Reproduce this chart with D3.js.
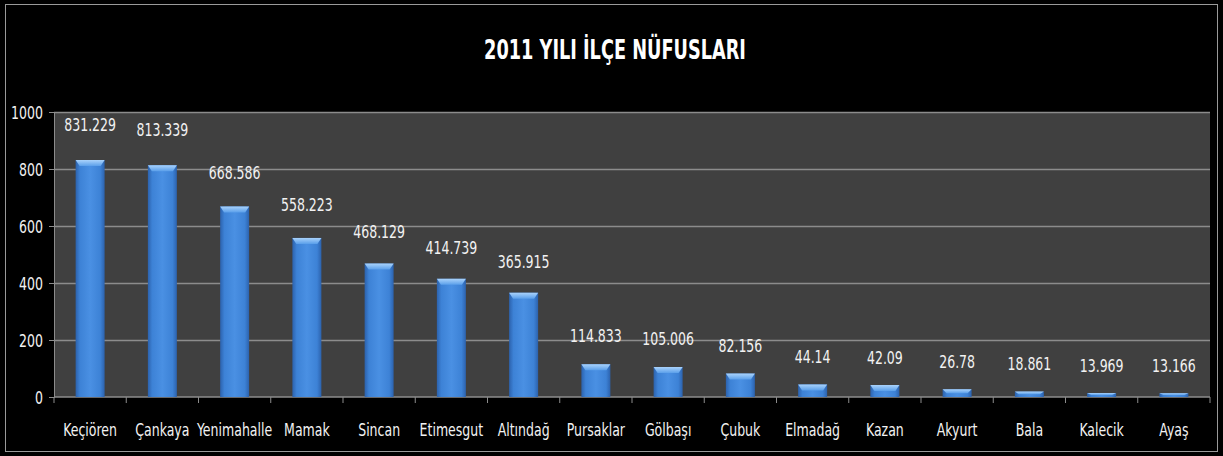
<!DOCTYPE html>
<html>
<head>
<meta charset="utf-8">
<script src="https://cdn.jsdelivr.net/npm/d3@7"></script>
<style>
  body { margin: 0; background: #000; }
  svg { display: block; }
  text { font-family: "Liberation Sans Narrow", "DejaVu Sans", sans-serif; font-stretch: condensed; }
</style>
</head>
<body>
<svg id="chart" width="1223" height="456"></svg>
<script>
var districts = ["Keçiören", "Çankaya", "Yenimahalle", "Mamak", "Sincan", "Etimesgut", "Altındağ",
  "Pursaklar", "Gölbaşı", "Çubuk", "Elmadağ", "Kazan", "Akyurt", "Bala", "Kalecik", "Ayaş"];
var population = [831.229, 813.339, 668.586, 558.223, 468.129, 414.739, 365.915,
  114.833, 105.006, 82.156, 44.14, 42.09, 26.78, 18.861, 13.969, 13.166];
var yTicks = [0, 200, 400, 600, 800, 1000];
var title = "2011 YILI İLÇE NÜFUSLARI";

var svg = d3.select("#chart");
var margin = {left: 54, right: 13, top: 112, bottom: 59};
var W = 1223, H = 456;
var sx = 0.82; // squeeze text horizontally, the original uses a narrow face

function narrow(sel, px, py, s) {
  s = s || sx;
  sel.attr("x", 0).attr("y", 0)
    .attr("transform", function(d, i) { return "translate(" + px(d, i) + "," + py(d, i) + ") scale(" + s + ",1)"; });
}

// outer frame
svg.append("rect").attr("x", 5.5).attr("y", 4.5).attr("width", W - 11).attr("height", H - 9)
  .attr("fill", "#000").attr("stroke", "#9a9a9a").attr("stroke-width", 1);

svg.append("text").attr("text-anchor", "middle")
  .attr("fill", "#fff").style("font-size", "27px").style("font-weight", "bold")
  .text(title)
  .call(narrow, function() { return 615; }, function() { return 59; }, 0.73);

var x = d3.scaleBand().domain(districts).range([margin.left, W - margin.right]).padding(0);
var y = d3.scaleLinear().domain([0, 1000]).range([H - margin.bottom, margin.top]);

var defs = svg.append("defs");
var grad = defs.append("linearGradient").attr("id", "barGrad").attr("x1", 0).attr("x2", 1);
grad.append("stop").attr("offset", "0%").attr("stop-color", "#2c62ad");
grad.append("stop").attr("offset", "15%").attr("stop-color", "#3d82d6");
grad.append("stop").attr("offset", "50%").attr("stop-color", "#4a90e3");
grad.append("stop").attr("offset", "85%").attr("stop-color", "#3d82d6");
grad.append("stop").attr("offset", "100%").attr("stop-color", "#2c62ad");
var capGrad = defs.append("linearGradient").attr("id", "capGrad").attr("x1", 0).attr("x2", 0).attr("y1", 0).attr("y2", 1);
capGrad.append("stop").attr("offset", "0%").attr("stop-color", "#a9d2fb");
capGrad.append("stop").attr("offset", "100%").attr("stop-color", "#5a9fea");

// plot background
svg.append("rect").attr("x", margin.left).attr("y", margin.top)
  .attr("width", W - margin.right - margin.left).attr("height", y(0) - margin.top)
  .attr("fill", "#404040");

// gridlines
svg.append("g").selectAll("line").data(yTicks.slice(1)).join("line")
  .attr("x1", margin.left).attr("x2", W - margin.right)
  .attr("y1", function(d) { return Math.round(y(d)) + 0.5; })
  .attr("y2", function(d) { return Math.round(y(d)) + 0.5; })
  .attr("stroke", "#8c8c8c").attr("stroke-width", 1.5);

// y axis
var yAxis = svg.append("g").attr("transform", "translate(" + margin.left + ",0)")
  .call(d3.axisLeft(y).tickValues(yTicks).tickSize(5).tickPadding(5).tickFormat(d3.format("d")));
yAxis.select(".domain").attr("stroke", "#8c8c8c");
yAxis.selectAll(".tick line").attr("stroke", "#8c8c8c");
yAxis.selectAll(".tick text").attr("fill", "#f2f2f2").style("font-size", "17px")
  .style("font-family", "'Liberation Sans Narrow', 'DejaVu Sans', sans-serif")
  .attr("x", null).attr("dy", null)
  .attr("transform", "translate(-11,6) scale(" + sx + ",1)");

// x axis
var bounds = districts.map(function(d) { return x(d); }).concat([W - margin.right]);
svg.append("line").attr("x1", margin.left).attr("x2", W - margin.right)
  .attr("y1", y(0)).attr("y2", y(0)).attr("stroke", "#8c8c8c").attr("stroke-width", 1.5);
svg.append("g").selectAll("line").data(bounds).join("line")
  .attr("x1", function(d) { return d; }).attr("x2", function(d) { return d; })
  .attr("y1", y(0)).attr("y2", y(0) + 6).attr("stroke", "#8c8c8c");
svg.append("g").selectAll("text").data(districts).join("text")
  .attr("text-anchor", "middle")
  .attr("fill", "#f2f2f2").style("font-size", "17px")
  .text(function(d) { return d; })
  .call(narrow, function(d) { return x(d) + x.bandwidth() / 2; }, function() { return 436; });

// bars
var barW = 29;
var bars = svg.append("g").selectAll("g").data(population).join("g");
bars.append("rect")
  .attr("x", function(d, i) { return x(districts[i]) + x.bandwidth() / 2 - barW / 2; })
  .attr("y", function(d) { return y(d); })
  .attr("width", barW)
  .attr("height", function(d) { return y(0) - y(d); })
  .attr("fill", "url(#barGrad)");
bars.append("path")
  .attr("d", function(d, i) {
    var cx = x(districts[i]) + x.bandwidth() / 2, t = y(d);
    var h = Math.min(6, (y(0) - t) / 2);
    return "M" + (cx - barW / 2) + "," + t + "L" + (cx + barW / 2) + "," + t +
      "L" + (cx + barW / 2 - 4) + "," + (t + h) + "L" + (cx - barW / 2 + 4) + "," + (t + h) + "Z";
  })
  .attr("fill", "url(#capGrad)");

// value labels, gap above the bar grows a little with its height
svg.append("g").selectAll("text").data(population).join("text")
  .attr("text-anchor", "middle").attr("fill", "#f2f2f2").style("font-size", "17px")
  .text(function(d) { return String(d); })
  .call(narrow, function(d, i) { return x(districts[i]) + x.bandwidth() / 2; },
    function(d) { return y(d) - 21 - d / 100; });
</script>
</body>
</html>
